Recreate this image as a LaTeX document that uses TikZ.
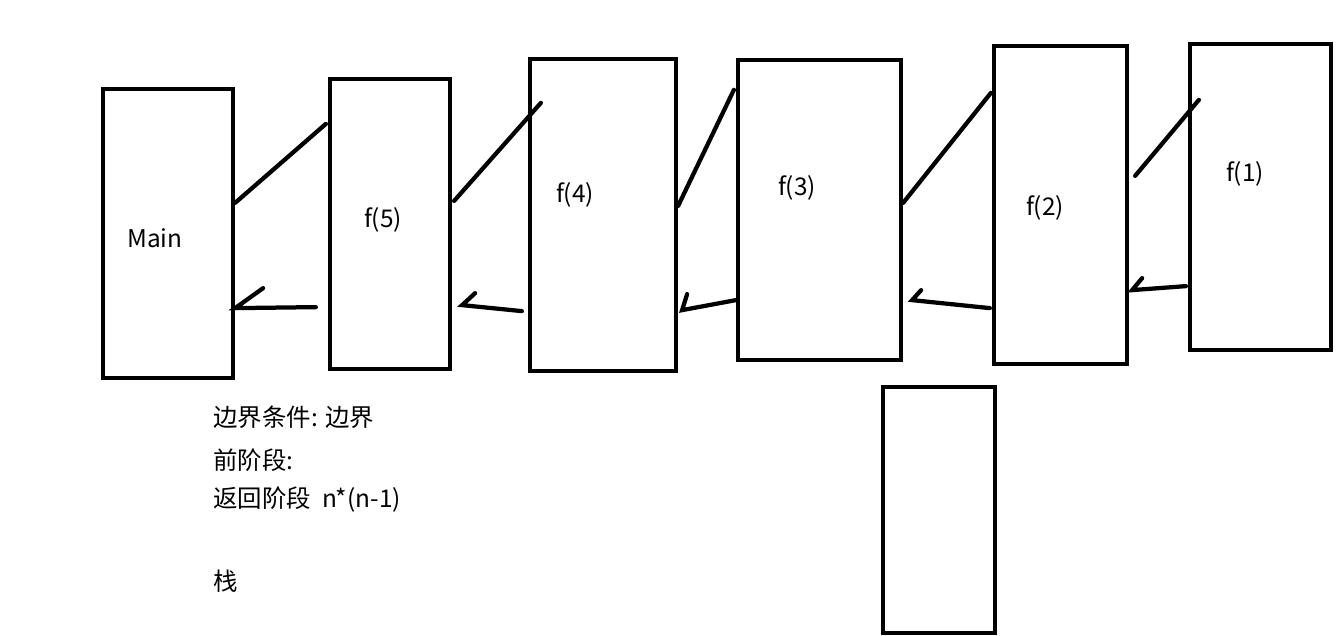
\documentclass[tikz,border=0pt]{standalone}
\usepackage{fontspec}
\setmainfont{Noto Sans CJK SC}
\usetikzlibrary{fit}
\usetikzlibrary{calc}

\tikzset{
  box/.style={draw, line width=0.085cm, inner sep=0pt},
  lbl/.style={font=\fontsize{13.9}{16}\selectfont, inner sep=0pt},
  stroke/.style={line width=0.085cm, line cap=round}
}

\begin{document}
\begin{tikzpicture}[x=0.02cm, y=-0.02cm]
	  \useasboundingbox (0,0) rectangle (1340,636);
	  % frames
	  \node[box, fit={(103,89) (233,378)}] (main) {};
	  \node[box, fit={(330,79) (450,369)}] (f5) {};
	  \node[box, fit={(530,59) (676,371)}] (f4) {};
	  \node[box, fit={(738,60) (901,360)}] (f3) {};
	  \node[box, fit={(994,46) (1127,364)}] (f2) {};
	  \node[box, fit={(1190,44) (1331,350)}] (f1) {};
	  \node[box, fit={(883,387) (995,633)}] (stack) {};
	  % names
	  \node[lbl] (mainname) at (155,238) {Main};
	  \node[lbl] (f5name) at (383,220) {f(5)};
	  \node[lbl] (f4name) at (575,195) {f(4)};
	  \node[lbl] (f3name) at (797,188) {f(3)};
	  \node[lbl] (f2name) at (1045,208) {f(2)};
	  \node[lbl] (f1name) at (1245,174) {f(1)};
	  % calls
	  \draw[stroke] ($(main.north east)+(0,116)$) -- ($(f5.north west)+(-2,47)$);
	  \draw[stroke] ($(f5.north east)+(2,124)$) -- ($(f4.north west)+(13,46)$);
	  \draw[stroke] ($(f4.north east)+(0,149)$) -- ($(f3.north west)+(-2,32)$);
	  \draw[stroke] ($(f3.north east)+(0,145)$) -- ($(f2.north west)+(-1,49)$);
	  \draw[stroke] ($(f2.north east)+(6,132)$) -- ($(f1.north west)+(11,58)$);
	  % returns
	  \draw[stroke] ($(f5.south west)+(-12,-64)$) -- ($(main.south east)+(0,-72)$) -- ++(28,-20);
	  \draw[stroke] ($(f4.south west)+(-6,-62)$) -- ($(f5.south east)+(10,-66)$) -- ++(13,-12);
	  \draw[stroke] ($(f3.south west)+(0,-62)$) -- ($(f4.south east)+(4,-63)$) -- ++(5,-16);
	  \draw[stroke] ($(f2.south west)+(-2,-58)$) -- ($(f3.south east)+(9,-62)$) -- ++(9,-10);
	  \draw[stroke] ($(f1.south west)+(-2,-66)$) -- ($(f2.south east)+(3,-76)$) -- ++(10,-12);
	  % notes
	  \foreach \t/\y/\n in {边界条件: 边界/417/a, 前阶段:/460/b, 返回阶段\hspace{0.45em}n*(n-1)/500/c, 栈/581/d}
	    \node[lbl, anchor=west] (note\n) at (213,\y) {\t};
\end{tikzpicture}
\end{document}
